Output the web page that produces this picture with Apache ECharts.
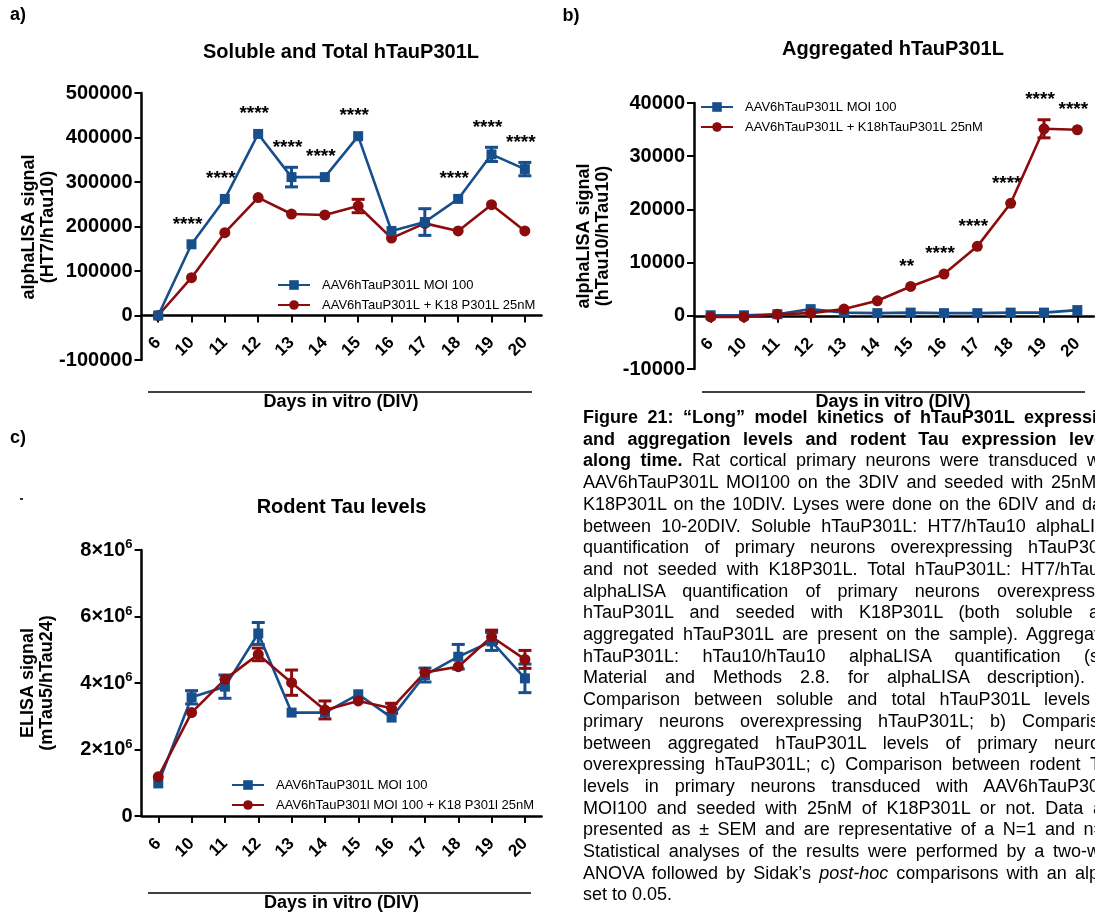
<!DOCTYPE html>
<html>
<head>
<meta charset="utf-8">
<script src="https://cdn.jsdelivr.net/npm/echarts@6/dist/echarts.min.js"></script>
<style>
  html, body { margin: 0; padding: 0; background: #fff; width: 1095px; height: 915px; overflow: hidden; }
  #chart { position: absolute; left: 0; top: 0; width: 1095px; height: 915px; }
  #caption {
    position: absolute; left: 583px; top: 407px; width: 536px;
    font-family: 'Liberation Sans', Arial, sans-serif; font-size: 18px; line-height: 21.7px; color: #000;
  }
  #caption div { text-align: justify; text-align-last: justify; }
  #caption div.last { text-align: left; text-align-last: left; }
</style>
</head>
<body>
<div id="chart"></div>
<div id="caption">
  <div><b>Figure 21: “Long” model kinetics of hTauP301L expression</b></div>
  <div><b>and aggregation levels and rodent Tau expression levels</b></div>
  <div><b>along time.</b> Rat cortical primary neurons were transduced with</div>
  <div>AAV6hTauP301L MOI100 on the 3DIV and seeded with 25nM of</div>
  <div>K18P301L on the 10DIV. Lyses were done on the 6DIV and daily</div>
  <div>between 10-20DIV. Soluble hTauP301L: HT7/hTau10 alphaLISA</div>
  <div>quantification of primary neurons overexpressing hTauP301L</div>
  <div>and not seeded with K18P301L. Total hTauP301L: HT7/hTau10</div>
  <div>alphaLISA quantification of primary neurons overexpressing</div>
  <div>hTauP301L and seeded with K18P301L (both soluble and</div>
  <div>aggregated hTauP301L are present on the sample). Aggregated</div>
  <div>hTauP301L: hTau10/hTau10 alphaLISA quantification (see</div>
  <div>Material and Methods 2.8. for alphaLISA description). a)</div>
  <div>Comparison between soluble and total hTauP301L levels of</div>
  <div>primary neurons overexpressing hTauP301L; b) Comparison</div>
  <div>between aggregated hTauP301L levels of primary neurons</div>
  <div>overexpressing hTauP301L; c) Comparison between rodent Tau</div>
  <div>levels in primary neurons transduced with AAV6hTauP301L</div>
  <div>MOI100 and seeded with 25nM of K18P301L or not. Data are</div>
  <div>presented as ± SEM and are representative of a N=1 and n=3.</div>
  <div>Statistical analyses of the results were performed by a two-way</div>
  <div>ANOVA followed by Sidak’s <i>post-hoc</i> comparisons with an alpha</div>
  <div class="last">set to 0.05.</div>
</div>
<script>
// Days in vitro (DIV) sampled
const days = ['6', '10', '11', '12', '13', '14', '15', '16', '17', '18', '19', '20'];

// a) Soluble and total hTauP301L (alphaLISA HT7/hTau10)
const totalA      = [0, 160000, 262000, 408000, 311000, 311000, 403000, 190000, 210000, 262000, 362000, 329000];
const totalErrA   = [0, 0, 0, 0, 22000, 0, 0, 0, 30000, 0, 16000, 15000];
const solubleA    = [0, 85000, 186000, 265000, 228000, 226000, 246000, 174000, 207000, 190000, 249000, 190000];
const solubleErrA = [0, 0, 0, 0, 0, 0, 15000, 0, 0, 0, 0, 0];
const sigA        = ['', '****', '****', '****', '****', '****', '****', '', '', '****', '****', '****'];

// b) Aggregated hTauP301L (alphaLISA hTau10/hTau10)
const ctrlB       = [100, 100, 300, 1250, 600, 500, 600, 500, 500, 600, 600, 1070];
const ctrlErrB    = [0, 0, 0, 0, 0, 0, 0, 0, 0, 0, 0, 0];
const seededB     = [-200, -200, 300, 500, 1260, 2820, 5520, 7850, 13050, 21150, 35150, 34970];
const seededErrB  = [0, 0, 0, 0, 0, 0, 0, 0, 0, 0, 1700, 0];
const sigB        = ['', '', '', '', '', '', '**', '****', '****', '****', '****', '****'];

// c) Rodent Tau levels (ELISA mTau5/hTau24), in millions
const ctrlC       = [0.98, 3.57, 3.89, 5.49, 3.11, 3.11, 3.66, 2.96, 4.24, 4.79, 5.25, 4.14];
const ctrlErrC    = [0, 0.2, 0.35, 0.33, 0, 0, 0, 0, 0.21, 0.37, 0.27, 0.43];
const seededC     = [1.18, 3.11, 4.11, 4.86, 4.01, 3.19, 3.46, 3.24, 4.32, 4.49, 5.39, 4.71];
const seededErrC  = [0, 0, 0, 0.19, 0.38, 0.27, 0, 0.15, 0, 0, 0.2, 0.27];

const nameCtrl   = 'AAV6hTauP301L MOI 100';
const nameSeedA  = 'AAV6hTauP301L + K18 P301L 25nM';
const nameSeedB  = 'AAV6hTauP301L + K18hTauP301L 25nM';
const nameSeedC  = 'AAV6hTauP301l MOI 100 + K18 P301l 25nM';

const BLUE = '#174e8c';
const RED = '#8c0c0e';
const FONT = "'Liberation Sans', Arial, Helvetica, sans-serif";
const M = 1e6;

function lineSeries(idx, name, data, color, symbol, size) {
  return {
    type: 'line', name, xAxisIndex: idx, yAxisIndex: idx, data,
    symbol, symbolSize: size, showSymbol: true,
    lineStyle: { color, width: 2.6 }, itemStyle: { color },
    emphasis: { disabled: true }, silent: true
  };
}

function errorSeries(idx, vals, errs, color) {
  const data = [];
  vals.forEach((v, i) => { if (errs[i] > 0) data.push([i, v - errs[i], v + errs[i]]); });
  return {
    type: 'custom', xAxisIndex: idx, yAxisIndex: idx, data, silent: true, clip: false,
    encode: { x: 0, y: [1, 2] },
    renderItem(params, api) {
      const lo = api.coord([api.value(0), api.value(1)]);
      const hi = api.coord([api.value(0), api.value(2)]);
      const hw = 6.5;
      const style = { stroke: color, lineWidth: 3 };
      return {
        type: 'group', children: [
          { type: 'line', shape: { x1: lo[0], y1: lo[1], x2: hi[0], y2: hi[1] }, style },
          { type: 'line', shape: { x1: lo[0] - hw, y1: lo[1], x2: lo[0] + hw, y2: lo[1] }, style },
          { type: 'line', shape: { x1: hi[0] - hw, y1: hi[1], x2: hi[0] + hw, y2: hi[1] }, style }
        ]
      };
    }
  };
}

// significance stars sit above the highest error-bar end of each day
function starSeries(idx, sig, a, ae, b, be) {
  const rows = [];
  sig.forEach((s, i) => {
    if (s) rows.push({ i, top: Math.max(a[i] + ae[i], b[i] + be[i]), s });
  });
  return {
    type: 'custom', xAxisIndex: idx, yAxisIndex: idx, silent: true, clip: false,
    data: rows.map(r => [r.i, r.top]),
    encode: { x: 0, y: 1 },
    renderItem(params, api) {
      const p = api.coord([api.value(0), api.value(1)]);
      return {
        type: 'text', x: p[0] - 4, y: p[1] - 20,
        style: { text: rows[params.dataIndex].s, fontSize: 19, fontWeight: 'bold', fontFamily: FONT,
                 fill: '#000', align: 'center', verticalAlign: 'middle' }
      };
    }
  };
}

const axisLine = { show: true, onZero: true, lineStyle: { color: '#000', width: 2.5 } };

// labelMargin is measured from the bottom of the grid; the axis line itself sits on y = 0
function xAxis(idx, labelMargin) {
  return {
    type: 'category', gridIndex: idx, data: days, boundaryGap: true,
    axisLine, axisTick: { show: true, alignWithLabel: true, length: 7, lineStyle: { color: '#000', width: 2 } },
    axisLabel: { rotate: 45, margin: labelMargin, fontSize: 17, fontWeight: 'bold', color: '#000', fontFamily: FONT },
    splitLine: { show: false }
  };
}

function yAxis(idx, min, max, interval, extra) {
  return Object.assign({
    type: 'value', gridIndex: idx, min, max, interval,
    axisLine: { show: true, lineStyle: { color: '#000', width: 2.5 } },
    axisTick: { show: true, length: 7, lineStyle: { color: '#000', width: 2 } },
    axisLabel: { margin: 9, fontSize: 20, fontWeight: 'bold', color: '#000', fontFamily: FONT,
                 formatter: v => String(v) },
    splitLine: { show: false }
  }, extra || {});
}

function legend(left, top, names) {
  return {
    data: names, orient: 'vertical', left, top, padding: 0, itemWidth: 32, itemHeight: 12, itemGap: 6,
    selectedMode: false,
    textStyle: { fontSize: 13, color: '#000', fontFamily: FONT, lineHeight: 14, padding: [0, 0, 0, 7] }
  };
}

function label(x, y, text, size, extra) {
  return Object.assign({
    type: 'text', x, y,
    style: { text, fontSize: size, fontWeight: 'bold', fontFamily: FONT, fill: '#000',
             align: 'center', verticalAlign: 'middle', lineHeight: 19 }
  }, extra || {});
}

function rule(x1, x2, y) {
  return { type: 'line', shape: { x1, y1: y, x2, y2: y }, style: { stroke: '#000', lineWidth: 1.5 } };
}

const option = {
  animation: false,
  backgroundColor: '#fff',
  textStyle: { fontFamily: FONT },
  grid: [
    { left: 141.5, top: 93, width: 400, height: 267 },
    { left: 694, top: 103, width: 400, height: 266 },
    { left: 141.6, top: 550, width: 400, height: 266 }
  ],
  xAxis: [xAxis(0, -20), xAxis(1, -28), xAxis(2, 25)],
  yAxis: [
    yAxis(0, -100000, 500000, 100000),
    yAxis(1, -10000, 40000, 10000),
    yAxis(2, 0, 8 * M, 2 * M, {
      axisLabel: {
        margin: 9, color: '#000', fontFamily: FONT,
        formatter: v => v === 0 ? '{n|0}' : '{n|' + (v / M) + '×10}{s|6}',
        rich: {
          n: { fontSize: 20, fontWeight: 'bold', fontFamily: FONT, color: '#000', lineHeight: 24 },
          s: { fontSize: 13, fontWeight: 'bold', fontFamily: FONT, color: '#000', lineHeight: 13, verticalAlign: 'top' }
        }
      }
    })
  ],
  legend: [
    legend(277, 278, [nameCtrl, nameSeedA]),
    legend(700, 100, [nameCtrl, nameSeedB]),
    legend(231, 778, [nameCtrl, nameSeedC])
  ],
  series: [
    // a)
    lineSeries(0, nameSeedA, solubleA, RED, 'circle', 11),
    errorSeries(0, solubleA, solubleErrA, RED),
    lineSeries(0, nameCtrl, totalA, BLUE, 'rect', 10),
    errorSeries(0, totalA, totalErrA, BLUE),
    starSeries(0, sigA, totalA, totalErrA, solubleA, solubleErrA),
    // b)
    lineSeries(1, nameCtrl, ctrlB, BLUE, 'rect', 10),
    errorSeries(1, ctrlB, ctrlErrB, BLUE),
    lineSeries(1, nameSeedB, seededB, RED, 'circle', 11),
    errorSeries(1, seededB, seededErrB, RED),
    starSeries(1, sigB, ctrlB, ctrlErrB, seededB, seededErrB),
    // c)
    lineSeries(2, nameCtrl, ctrlC.map(v => v * M), BLUE, 'rect', 10),
    errorSeries(2, ctrlC.map(v => v * M), ctrlErrC.map(v => v * M), BLUE),
    lineSeries(2, nameSeedC, seededC.map(v => v * M), RED, 'circle', 11),
    errorSeries(2, seededC.map(v => v * M), seededErrC.map(v => v * M), RED)
  ],
  graphic: [
    // panel letters
    label(18, 15, 'a)', 18),
    label(571, 16, 'b)', 18),
    label(18, 438, 'c)', 18),
    // titles
    label(341, 52, 'Soluble and Total hTauP301L', 20),
    label(893, 49, 'Aggregated hTauP301L', 20),
    label(341.5, 507, 'Rodent Tau levels', 20),
    // y-axis names
    label(39, 227, 'alphaLISA signal\n(HT7/hTau10)', 18, { rotation: Math.PI / 2 }),
    label(594, 236, 'alphaLISA signal\n(hTau10/hTau10)', 18, { rotation: Math.PI / 2 }),
    label(38, 683, 'ELISA signal\n(mTau5/hTau24)', 18, { rotation: Math.PI / 2 }),
    // x-axis group rules and names
    rule(148, 532, 392),
    label(341, 402, 'Days in vitro (DIV)', 18),
    rule(702, 1085, 392),
    label(893, 402, 'Days in vitro (DIV)', 18),
    rule(148, 531, 893),
    label(341.5, 903, 'Days in vitro (DIV)', 18),
    // stray mark beside panel c
    { type: 'rect', shape: { x: 20, y: 498, width: 3, height: 2 }, style: { fill: '#333' } }
  ]
};

const chart = echarts.init(document.getElementById('chart'), null, { renderer: 'canvas' });
chart.setOption(option);
</script>
</body>
</html>
